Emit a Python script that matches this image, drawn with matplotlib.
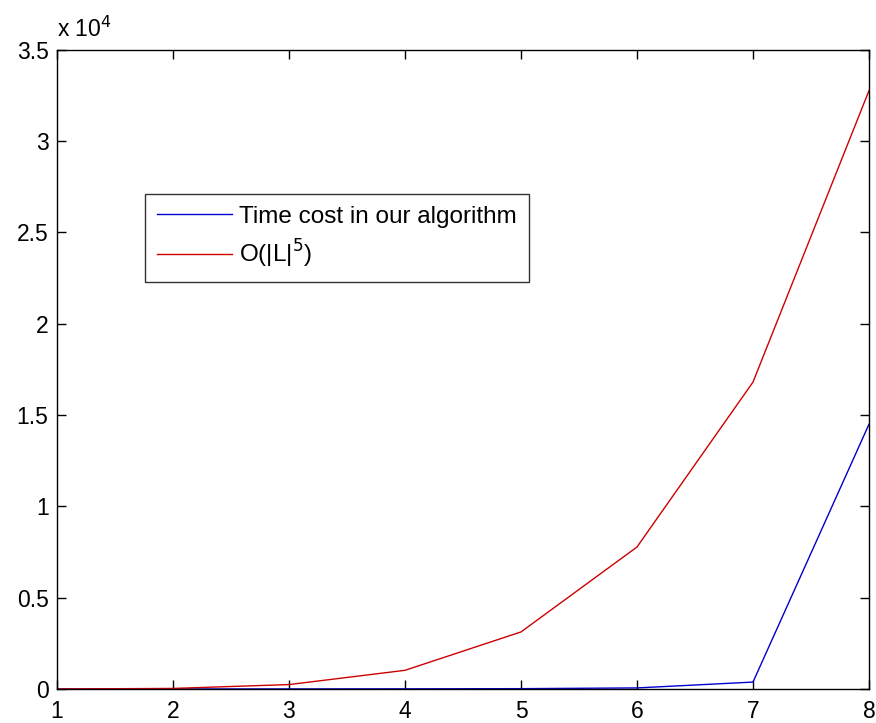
import numpy as np
import matplotlib
matplotlib.use("Agg")
import matplotlib.pyplot as plt

plt.rcParams['font.family'] = ['Liberation Sans', 'DejaVu Sans']

# problem size |L|
sizes = [1, 2, 3, 4, 5, 6, 7, 8]
time_cost = [0, 2, 5, 10, 20, 60, 380, 14500]
# |L|^5 reference curve
o_l5 = [1, 32, 243, 1024, 3125, 7776, 16807, 32768]

fig = plt.figure(figsize=(8.76, 7.23), dpi=100)
ax = fig.add_axes([0.065, 0.047, 0.927, 0.884])

ax.plot(sizes, time_cost, color='#0000cc', lw=1.0, label='Time cost in our algorithm')
ax.plot(sizes, o_l5, color='#cc0000', lw=1.0, label='O(|L|$^5$)')

ax.set_xlim(1, 8)
ax.set_ylim(0, 35000)
ax.set_xticks(range(1, 9))
yt = np.arange(0, 35001, 5000)
ax.set_yticks(yt)
ax.set_yticklabels(['0', '0.5', '1', '1.5', '2', '2.5', '3', '3.5'])
ax.tick_params(direction='in', top=True, right=True, labelsize=16.5, length=6.5, width=1)
ax.tick_params(axis='x', pad=8)
ax.tick_params(axis='y', pad=6)
for s in ax.spines.values():
    s.set_linewidth(1.0)

# MATLAB-style exponent label above the y axis
ax.text(0.0, 1.012, r'x 10$^4$', transform=ax.transAxes, fontsize=16.5,
        ha='left', va='bottom')

leg = ax.legend(loc='upper left', bbox_to_anchor=(0.108, 0.775), fontsize=17.5,
                frameon=True, fancybox=False, edgecolor='black',
                handlelength=3.1, handletextpad=0.3, borderpad=0.5,
                labelspacing=0.4, borderaxespad=0)
leg.get_frame().set_linewidth(1.0)

fig.savefig('out.png', dpi=100)
